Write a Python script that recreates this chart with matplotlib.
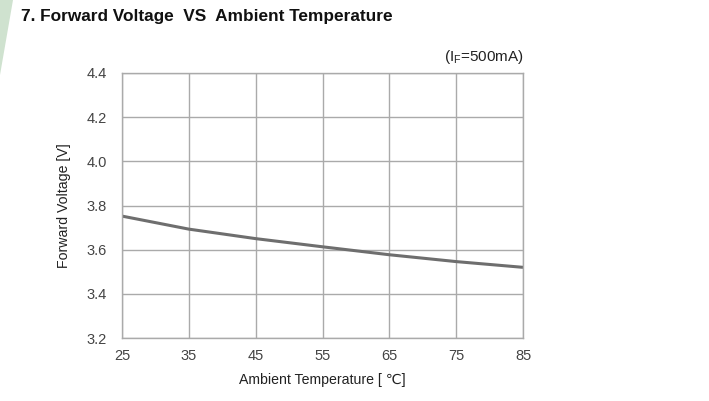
import matplotlib
matplotlib.use("Agg")
import matplotlib.pyplot as plt
from matplotlib.patches import Polygon

temps = [25, 35, 45, 55, 65, 75, 85]
vf = [3.752, 3.693, 3.650, 3.613, 3.577, 3.546, 3.520]
xticks = [25, 35, 45, 55, 65, 75, 85]
yticks = [3.2, 3.4, 3.6, 3.8, 4.0, 4.2, 4.4]

plt.rcParams['font.family'] = ['Liberation Sans', 'DejaVu Sans']

fig = plt.figure(figsize=(7.09, 4.01), dpi=100)
fig.patch.set_facecolor('white')

# green decorative stripe at left edge
stripe = Polygon([[0, 1], [13/709, 1], [0, 1 - 75/401]], closed=True,
                 transform=fig.transFigure, facecolor='#cfe2cf', edgecolor='none')
fig.patches.append(stripe)

fig.text(21/709, 1 - 16/401, '7. Forward Voltage  VS  Ambient Temperature',
         fontsize=12.4, fontweight='bold', family='Liberation Sans',
         va='center', ha='left', color='#111111')

ax = fig.add_axes([122/709, 1 - 338/401, 401/709, 265/401])
ax.plot(temps, vf, color='#6e6e6e', lw=2.2, solid_capstyle='butt')
ax.set_xlim(25, 85)
ax.set_ylim(3.2, 4.4)
ax.set_xticks(xticks)
ax.set_yticks(yticks)
ax.set_xticklabels([str(t) for t in xticks])
ax.set_yticklabels([f'{v:.1f}' for v in yticks])
ax.grid(True, color='#aaaaaa', lw=1.0)
ax.set_axisbelow(True)
for s in ax.spines.values():
    s.set_color('#aaaaaa')
    s.set_linewidth(1.0)
ax.tick_params(length=0, colors='#444444', labelsize=10.5)
ax.tick_params(axis='x', pad=8)
ax.tick_params(axis='y', pad=11)

ax.set_xlabel('Ambient Temperature [ ℃]', fontsize=10.2, color='#222222', labelpad=7)
ax.set_ylabel('Forward Voltage [V]', fontsize=10.2, color='#222222', labelpad=11)

fig.text(524/709, 1 - 57/401, r'(I$_\mathregular{F}$=500mA)', fontsize=11,
         ha='right', va='center', color='#222222')

fig.savefig('out.png', dpi=100, facecolor='white')
